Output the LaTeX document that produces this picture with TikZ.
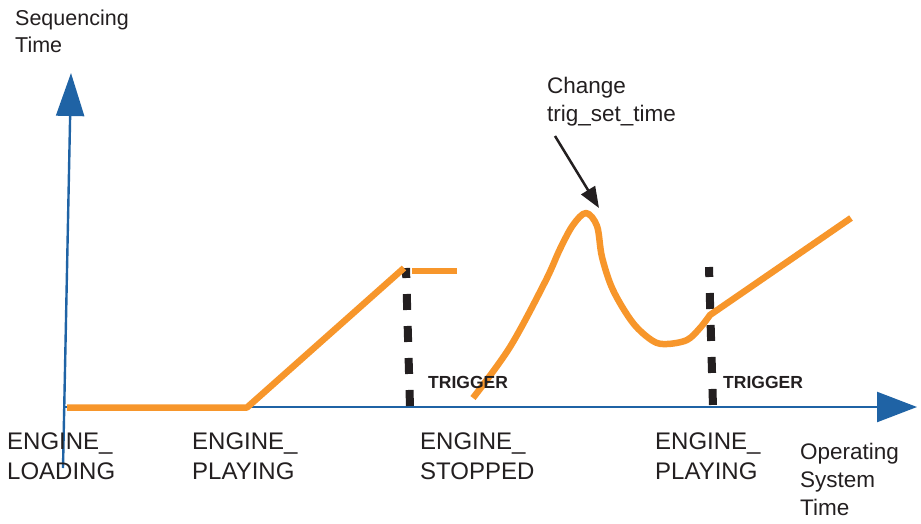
\documentclass[tikz,border=0pt]{standalone}
\usepackage{fontspec}
\setmainfont{Liberation Sans}
\usetikzlibrary{arrows.meta}
\definecolor{axisblue}{HTML}{1F63A5}
\definecolor{curveorange}{HTML}{F7962B}
\definecolor{inkdark}{HTML}{231F20}
\tikzset{
  label/.style={anchor=north west, inner sep=0pt, align=left, text=inkdark,
    font=\fontsize{22.5}{28}\selectfont},
  statelabel/.style={label, font=\fontsize{24}{29.5}\selectfont},
  triglabel/.style={anchor=north west, inner sep=0pt, text=inkdark,
    font=\fontsize{17.5}{20}\selectfont\bfseries},
  axisline/.style={draw=axisblue, line width=2.4pt},
  curve/.style={draw=curveorange, line width=6.5pt, line join=round},
  trigline/.style={draw=inkdark, line width=8pt, dash pattern=on 16pt off 16pt, dash phase=6pt},
}
\begin{document}
\begin{tikzpicture}[x=1pt, y=-1pt]
  \useasboundingbox (0,0) rectangle (921,523);

  % axes
  \coordinate (ybot) at (63,468);
  \coordinate (ytop) at (71,73);
  \coordinate (xleft) at (63,407);
  \coordinate (xright) at (917,407);
  \draw[axisline, -{Triangle[length=43pt,width=28pt]}] (ybot) -- (ytop);
  \draw[axisline, -{Triangle[length=40pt,width=30pt]}] (xleft) -- (xright);

  % trigger markers
  \coordinate (t1top) at (406,268);
  \coordinate (t1bot) at (410,407);
  \coordinate (t2top) at (709,267);
  \coordinate (t2bot) at (713,407);
  \draw[trigline] (t1top) -- (t1bot);
  \draw[trigline] (t2top) -- (t2bot);

  % sequencing time against operating system time
  \draw[curve] (67,407.5) -- (247,407.5) -- (404,268);
  \draw[curve] (412,271) -- (457,271);
  \draw[curve] plot[smooth, tension=0.55] coordinates {
      (473,398) (510,347) (545,282) (560,249) (573,225) (586,213)
      (597,226) (602,257) (613,290) (633,323) (653,341) (667,344)
      (687,340) (700,328) (710,315)}
    -- (851,218);

  % annotation
  \node[label] (chg) at (547,77) {Change\\trig\_set\_time};
  \coordinate (chgtail) at (555,136);
  \coordinate (peak) at (599,208);
  \draw[inkdark, line width=2.5pt, -{Triangle[length=21pt,width=16pt]}] (chgtail) -- (peak);

  % axis labels
  \node[label, font=\fontsize{21.5}{27}\selectfont] (ylab) at (15,10) {Sequencing\\Time};
  \node[label] (xlab) at (800,443) {Operating\\System\\Time};

  % state labels
  \node[statelabel] (s1) at (7,433) {ENGINE\_\\LOADING};
  \node[statelabel] (s2) at (192,433) {ENGINE\_\\PLAYING};
  \node[statelabel] (s3) at (420,433) {ENGINE\_\\STOPPED};
  \node[statelabel] (s4) at (655,433) {ENGINE\_\\PLAYING};

  \node[triglabel] (tr1) at (428,376) {TRIGGER};
  \node[triglabel] (tr2) at (723,376) {TRIGGER};
\end{tikzpicture}
\end{document}
